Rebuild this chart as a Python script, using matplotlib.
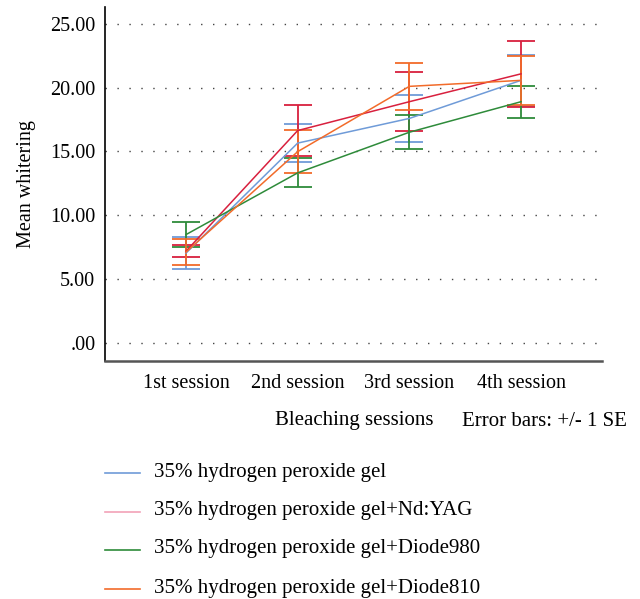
import numpy as np
import matplotlib
matplotlib.use('Agg')
import matplotlib.pyplot as plt
from matplotlib.lines import Line2D

## Data
sessions = ['1st session', '2nd session', '3rd session', '4th session']
groups = ['35% hydrogen peroxide gel',
          '35% hydrogen peroxide gel+Nd:YAG',
          '35% hydrogen peroxide gel+Diode980',
          '35% hydrogen peroxide gel+Diode810']
gel_mean = [7.04, 15.65, 17.58, 20.56]
gel_se = [1.27, 1.49, 1.83, 1.99]
ndyag_mean = [7.19, 16.63, 18.89, 21.07]
ndyag_se = [0.47, 2.00, 2.30, 2.57]
d980_mean = [8.49, 13.32, 16.50, 18.89]
d980_se = [0.97, 1.14, 1.35, 1.25]
d810_mean = [7.12, 14.98, 20.09, 20.56]
d810_se = [1.03, 1.68, 1.85, 1.93]
yticks = [0, 5, 10, 15, 20, 25]
ytick_labels = ['.00', '5.00', '10.00', '15.00', '20.00', '25.00']

means = [gel_mean, ndyag_mean, d980_mean, d810_mean]
ses = [gel_se, ndyag_se, d980_se, d810_se]
line_colors = ['#6f9bd8', '#d8203e', '#2e8b3a', '#f26b2a']
legend_colors = ['#6f9bd8', '#f2a2b8', '#2e8b3a', '#f26b2a']

plt.rcParams['font.family'] = ['Liberation Serif', 'DejaVu Serif']
fs = 14.5
fs2 = 15

fig = plt.figure(figsize=(6.4, 5.99), dpi=100)
ax = fig.add_axes([105/640, 238/599, 497/640, 354/599])

x = np.arange(1, len(sessions) + 1)
for m, s, c in zip(means, ses, line_colors):
    ax.errorbar(x, m, yerr=s, color=c, lw=1.1, elinewidth=1.3,
                capsize=10, capthick=1.3)

ax.set_xlim(0.275, 4.725)
ax.set_ylim(-1.4, 26.3)
ax.set_yticks(yticks)
ax.set_yticklabels(ytick_labels, fontsize=fs)
ax.set_xticks(x)
ax.set_xticklabels(sessions, fontsize=fs)
ax.tick_params(axis='both', length=0)
ax.tick_params(axis='y', pad=7)
ax.tick_params(axis='x', pad=9)
ax.grid(axis='y', color='#444444', lw=1.0, linestyle=(0, (1.0, 7.6)))
ax.set_axisbelow(True)

ax.spines['top'].set_visible(False)
ax.spines['right'].set_visible(False)
ax.spines['left'].set_color('black')
ax.spines['left'].set_linewidth(1.2)
ax.spines['bottom'].set_color('#555555')
ax.spines['bottom'].set_linewidth(1.8)

ax.set_ylabel('Mean whitering', fontsize=fs, labelpad=10)

fig.text(354/640, 1 - 421/599, 'Bleaching sessions', fontsize=fs2,
         ha='center', va='center')
fig.text(462/640, 1 - 421/599, 'Error bars: +/- 1 SE', fontsize=fs2,
         ha='left', va='center')

## legend, drawn by hand in figure coords
leg_y = [473, 512, 550, 589]
for yy, lab, c in zip(leg_y, groups, legend_colors):
    fig.add_artist(Line2D([105/640, 140/640], [1 - yy/599, 1 - yy/599],
                          color=c, lw=1.2, transform=fig.transFigure))
    fig.text(154/640, 1 - (yy - 1)/599, lab, fontsize=fs2, ha='left', va='center')

fig.savefig('out.png', dpi=100)
